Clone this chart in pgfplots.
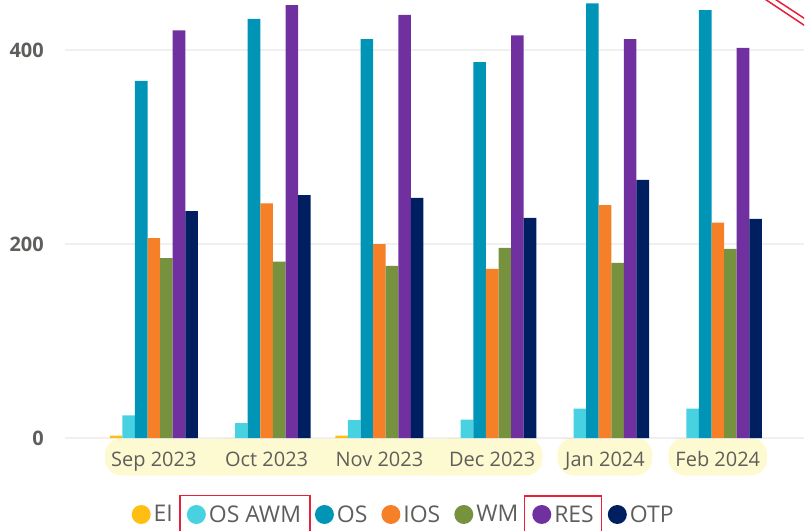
\documentclass[border=0pt]{standalone}
\usepackage{pgfplots}
\pgfplotsset{compat=1.18}
\usepackage{fontspec}
\setmainfont{Open Sans}

\definecolor{cEI}{HTML}{FFBE12}
\definecolor{cAWM}{HTML}{48D1E0}
\definecolor{cOS}{HTML}{0094B6}
\definecolor{cIOS}{HTML}{F58027}
\definecolor{cWM}{HTML}{77923F}
\definecolor{cRES}{HTML}{7030A0}
\definecolor{cOTP}{HTML}{001F60}
\definecolor{gridgray}{HTML}{F0F0F0}
\definecolor{txtgray}{HTML}{605E5C}
\definecolor{hilite}{HTML}{FDF9D0}
\definecolor{markred}{HTML}{E8213A}

\pgfplotsset{
  dot legend/.style={legend image code/.code={\fill[##1] (9.5pt,0pt) circle (9.5pt);}},
}

% month index: 0 Sep 2023 ... 5 Feb 2024
\pgfplotstableread{
x  EI   AWM   OS    IOS   WM    RES   OTP
0  2.5  23.5  368   206   185.5 420   234
1  0    15.5  432   242   182   446   250.5
2  2.5  18.5  411   200   177.5 436   247.5
3  0    19    387.5 174.5 196   415   227
4  0    30.5  448   240   180.5 411   266
5  0    30.5  441   222   195   402   226
}\monthly

\begin{document}
\begin{tikzpicture}
\begin{axis}[
  at={(0pt,0pt)}, anchor=south west,
  scale only axis, width=740pt, height=438.6pt,
  set layers,
  xmin=-0.788, xmax=5.766, ymin=0, ymax=451.4,
  ybar=0pt, bar width=0.1116,
  axis x line*=bottom, axis y line*=left,
  axis line style={draw=none},
  major tick length=0pt,
  xtick={0,...,5},
  xticklabels={Sep 2023,Oct 2023,Nov 2023,Dec 2023,Jan 2024,Feb 2024},
  ytick={0,200,400},
  ymajorgrids, grid style={gridgray, line width=1.6pt},
  /pgf/number format/assume math mode=true,
  xticklabel style={font=\fontsize{20}{24}\selectfont, text=txtgray, anchor=base, yshift=-28.4pt},
  yticklabel style={font=\bfseries\fontsize{20}{24}\selectfont, text=txtgray, anchor=east, inner xsep=0pt, xshift=-21pt},
  legend columns=7,
  legend style={at={(0.4575,-0.1742)}, anchor=center, draw=none, fill=none,
    font=\fontsize{23}{27}\selectfont, text=txtgray,
    nodes={inner xsep=1pt, inner ysep=0pt},
    /tikz/every odd column/.append style={column sep=2pt},
    /tikz/every even column/.append style={column sep=13pt}},
  every axis plot/.append style={draw=none, dot legend},
]
\begin{pgfonlayer}{axis background}
  \fill[hilite, rounded corners=17pt] (axis cs:-0.434,0.6) rectangle (axis cs:3.446,-38.5);
  \fill[hilite, rounded corners=17pt] (axis cs:3.578,0.6) rectangle (axis cs:4.420,-38.5);
  \fill[hilite, rounded corners=17pt] (axis cs:4.562,0.6) rectangle (axis cs:5.438,-38.5);
\end{pgfonlayer}
\addplot[fill=cEI] table[x=x, y=EI] {\monthly};
\addlegendentry{EI}
\addplot[fill=cAWM] table[x=x, y=AWM] {\monthly};
\addlegendentry{OS AWM}
\addplot[fill=cOS] table[x=x, y=OS] {\monthly};
\addlegendentry{OS}
\addplot[fill=cIOS] table[x=x, y=IOS] {\monthly};
\addlegendentry{IOS}
\addplot[fill=cWM] table[x=x, y=WM] {\monthly};
\addlegendentry{WM}
\addplot[fill=cRES] table[x=x, y=RES] {\monthly};
\addlegendentry{RES}
\addplot[fill=cOTP] table[x=x, y=OTP] {\monthly};
\addlegendentry{OTP}
\end{axis}
\path (-65pt,-92.4pt) rectangle (740pt,438.6pt);
% red annotation marks, cut at the page edge
\begin{scope}
\clip (-65pt,-92.4pt) rectangle (740pt,438.6pt);
\draw[markred, line width=1.8pt] (115.3pt,-95pt) |- (245.7pt,-57.4pt) -- (245.7pt,-95pt);
\draw[markred, line width=1.8pt] (460pt,-95pt) |- (537pt,-58.1pt) -- (537pt,-95pt);
\draw[markred, line width=1.5pt] (700pt,440pt) -- (742pt,412pt);
\draw[markred, line width=1.5pt] (710pt,440pt) -- (742pt,419pt);
\end{scope}
\end{tikzpicture}
\end{document}
